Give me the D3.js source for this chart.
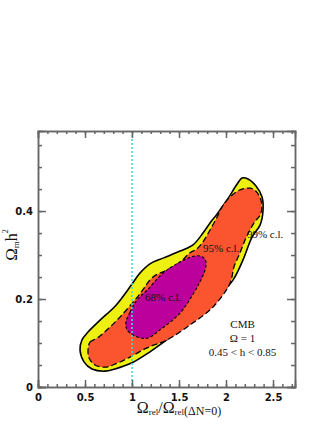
<!DOCTYPE html>
<html lang="en">
<head>
<meta charset="UTF-8">
<title>Omega_m h^2 vs Omega_rel</title>
<script src="https://d3js.org/d3.v7.min.js"></script>
<style>
  body { margin: 0; background: #fff; }
  .tick text { font-family: 'DejaVu Sans', sans-serif; font-weight: bold; font-size: 10px; fill: #111; }
  .axis .domain, .axis line { stroke: #666; stroke-width: 1.5; }
  .lbl { font-family: 'Liberation Serif', serif; font-size: 11px; fill: #111; }
</style>
</head>
<body>
<script>

const width  = 327;
const height = 424;

// confidence contours, [Omega_rel ratio, Omega_m h^2]
const c99 = [
  [0.447,0.084],[0.468,0.107],[0.532,0.125],[0.660,0.152],[0.830,0.186],[1.000,0.234],
  [1.085,0.259],[1.191,0.280],[1.330,0.293],[1.511,0.309],[1.649,0.323],[1.755,0.350],
  [1.830,0.373],[1.904,0.393],[2.011,0.425],[2.117,0.461],[2.170,0.475],[2.234,0.473],
  [2.319,0.457],[2.383,0.432],[2.394,0.402],[2.362,0.368],[2.277,0.341],[2.181,0.289],
  [2.074,0.243],[1.883,0.198],[1.638,0.152],[1.426,0.116],[1.191,0.080],[1.000,0.055],
  [0.819,0.041],[0.713,0.036],[0.574,0.041],[0.489,0.057]
];
const c95 = [
  [0.532,0.084],[0.553,0.102],[0.628,0.111],[0.755,0.134],[0.894,0.164],[1.074,0.209],
  [1.223,0.250],[1.372,0.266],[1.511,0.284],[1.617,0.305],[1.691,0.314],[1.755,0.330],
  [1.830,0.357],[1.904,0.386],[1.957,0.409],[2.043,0.432],[2.149,0.448],[2.255,0.452],
  [2.319,0.445],[2.372,0.425],[2.372,0.395],[2.298,0.373],[2.213,0.339],[2.149,0.305],
  [2.085,0.273],[2.043,0.236],[1.862,0.182],[1.617,0.141],[1.372,0.107],[1.160,0.089],
  [0.979,0.068],[0.819,0.052],[0.713,0.045],[0.606,0.050],[0.543,0.066]
];
const c68 = [
  [0.936,0.148],[0.979,0.170],[1.053,0.198],[1.160,0.220],[1.330,0.259],[1.511,0.284],
  [1.670,0.298],[1.755,0.295],[1.787,0.284],[1.777,0.266],[1.723,0.239],[1.649,0.211],
  [1.511,0.168],[1.298,0.130],[1.160,0.111],[1.032,0.116],[0.947,0.130]
];

const xMajor = [0, 0.5, 1, 1.5, 2, 2.5];
const xLabels = ["0", "0.5", "1", "1.5", "2", "2.5"];
const yMajor = [0, 0.2, 0.4];
const yLabels = ["0", "0.2", "0.4"];
const refLine = 1;

const notes = [
  {x: 1.138, y: 0.195, text: "68% c.l.", anchor: "start"},
  {x: 1.755, y: 0.307, text: "95% c.l.", anchor: "start"},
  {x: 2.223, y: 0.339, text: "99% c.l.", anchor: "start"},
  {x: 2.176, y: 0.134, text: "CMB", anchor: "middle"},
  {x: 2.176, y: 0.102, text: "\u03A9 = 1", anchor: "middle"},
  {x: 2.176, y: 0.070, text: "0.45 < h < 0.85", anchor: "middle"}
];

const x = d3.scaleLinear().domain([0, 2.734]).range([38, 295]);
const y = d3.scaleLinear().domain([0, 0.582]).range([387, 131]);

const svg = d3.select("body").append("svg")
    .attr("width", width)
    .attr("height", height);

const line = d3.line()
    .x(d => x(d[0]))
    .y(d => y(d[1]))
    .curve(d3.curveCatmullRomClosed.alpha(0.5));

svg.append("path").attr("d", line(c99))
    .attr("fill", "#eef012").attr("stroke", "#000").attr("stroke-width", 1.6);
svg.append("path").attr("d", line(c95))
    .attr("fill", "#fb5530").attr("stroke", "#000").attr("stroke-width", 1.3)
    .attr("stroke-dasharray", "6,3");
svg.append("path").attr("d", line(c68))
    .attr("fill", "#bb009b").attr("stroke", "#000").attr("stroke-width", 1.1)
    .attr("stroke-dasharray", "3,2");

svg.selectAll(".note").data(notes).enter()
    .append("text").attr("class", "lbl note")
    .attr("x", d => x(d.x))
    .attr("y", d => y(d.y))
    .attr("text-anchor", d => d.anchor)
    .text(d => d.text);

svg.append("line")
    .attr("x1", x(refLine)).attr("x2", x(refLine))
    .attr("y1", y.range()[1]).attr("y2", y.range()[0])
    .attr("stroke", "#3adede").attr("stroke-width", 1.6)
    .attr("stroke-dasharray", "2,2");

const xMinor = d3.range(0, 2.71, 0.1);
const yMinor = d3.range(0, 0.58, 0.05);

function addAxis(axis, tx, ty) {
    svg.append("g").attr("class", "axis")
        .attr("transform", "translate(" + [tx, ty] + ")")
        .call(axis);
}

// minor ticks
addAxis(d3.axisBottom(x).tickValues(xMinor).tickSize(-3).tickFormat(""), 0, 387);
addAxis(d3.axisTop(x).tickValues(xMinor).tickSize(-3).tickFormat(""), 0, 131);
addAxis(d3.axisLeft(y).tickValues(yMinor).tickSize(-4).tickFormat(""), 38, 0);
addAxis(d3.axisRight(y).tickValues(yMinor).tickSize(-4).tickFormat(""), 295, 0);

// major ticks with labels
addAxis(d3.axisBottom(x).tickValues(xMajor).tickSize(-7).tickPadding(7)
    .tickFormat((d, i) => xLabels[i]), 0, 387);
addAxis(d3.axisTop(x).tickValues(xMajor).tickSize(-7).tickFormat(""), 0, 131);
addAxis(d3.axisLeft(y).tickValues(yMajor).tickSize(-8).tickPadding(5)
    .tickFormat((d, i) => yLabels[i]), 38, 0);
addAxis(d3.axisRight(y).tickValues(yMajor).tickSize(-8).tickFormat(""), 295, 0);

// axis titles
const xt = svg.append("text")
    .attr("x", 179).attr("y", 413)
    .attr("text-anchor", "middle")
    .style("font-family", "'Liberation Serif', serif")
    .attr("fill", "#111");
xt.append("tspan").style("font-size", "16px").text("\u03A9");
xt.append("tspan").style("font-size", "9px").attr("dy", 2).text("rel");
xt.append("tspan").style("font-size", "16px").attr("dy", -2).text("/\u03A9");
xt.append("tspan").style("font-size", "9px").attr("dy", 2).text("rel");
xt.append("tspan").style("font-size", "12px").text("(\u0394N=0)");

const yt = svg.append("text")
    .attr("transform", "translate(17,245) rotate(-90)")
    .attr("text-anchor", "middle")
    .style("font-family", "'Liberation Serif', serif")
    .attr("fill", "#111");
yt.append("tspan").style("font-size", "17px").text("\u03A9");
yt.append("tspan").style("font-size", "9px").attr("dy", 2).text("m");
yt.append("tspan").style("font-size", "16px").attr("dy", -2).text("h");
yt.append("tspan").style("font-size", "8px").attr("dy", -9).text("2");

</script>
</body>
</html>
